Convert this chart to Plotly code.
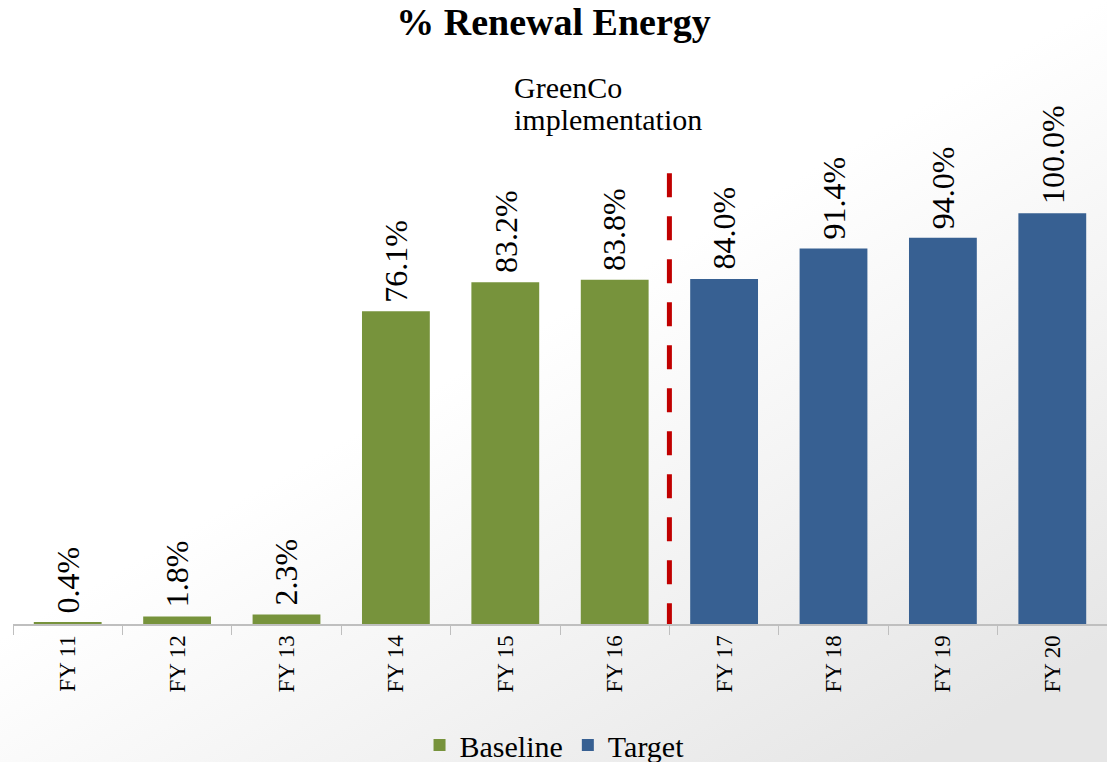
import base64
import plotly.graph_objects as go

# Renewable share of total energy, by financial year
categories = ["FY 11", "FY 12", "FY 13", "FY 14", "FY 15",
              "FY 16", "FY 17", "FY 18", "FY 19", "FY 20"]
baseline_years = categories[:6]
baseline_values = [0.4, 1.8, 2.3, 76.1, 83.2, 83.8]
target_years = categories[6:]
target_values = [84.0, 91.4, 94.0, 100.0]

GREEN = "#77933C"
BLUE = "#376092"
RED = "#C00000"
SERIF = "Liberation Serif"

W, H = 1107, 762
ML, MR, MT, MB = 13, 0, 131, 138
plot_w = W - ML - MR
plot_h = H - MT - MB

# soft grey wash towards the right-hand side of the page
svg = f"""<svg xmlns='http://www.w3.org/2000/svg' width='{W}' height='{H}'>
<defs><linearGradient id='g' x1='0.58' y1='0.35' x2='1' y2='0.85'>
<stop offset='0' stop-color='#ffffff'/>
<stop offset='1' stop-color='#e6e6e6'/>
</linearGradient></defs>
<rect width='{W}' height='{H}' fill='url(#g)'/></svg>"""
bg_uri = "data:image/svg+xml;base64," + base64.b64encode(svg.encode()).decode()

fig = go.Figure()

fig.add_trace(go.Bar(
    name="Baseline", x=baseline_years, y=baseline_values,
    marker=dict(color=GREEN, line=dict(width=0)), width=0.62,
))
fig.add_trace(go.Bar(
    name="Target", x=target_years, y=target_values,
    marker=dict(color=BLUE, line=dict(width=0)), width=0.62,
))

# value labels, rotated, sitting just above each bar
label_font = dict(family=SERIF, size=32, color="#000000")
for xs, ys in ((baseline_years, baseline_values), (target_years, target_values)):
    for xv, yv in zip(xs, ys):
        fig.add_annotation(x=xv, y=yv, xref="x", yref="y",
                           text=f"{yv:.1f}%", textangle=-90,
                           xanchor="center", yanchor="bottom", yshift=7,
                           showarrow=False, font=label_font)

# GreenCo implementation marker between FY 16 and FY 17
fig.add_shape(type="line", xref="x", yref="y",
              x0=5.5, x1=5.5, y0=109.7, y1=0,
              line=dict(color=RED, width=5, dash="24px,19px"))

note_font = dict(family=SERIF, size=30, color="#000000")
fig.add_annotation(text="GreenCo", xref="paper", yref="paper",
                   x=(512 - ML) / plot_w, y=(H - MB - 88) / plot_h,
                   xanchor="left", yanchor="middle", showarrow=False,
                   font=note_font)
fig.add_annotation(text="implementation", xref="paper", yref="paper",
                   x=(512 - ML) / plot_w, y=(H - MB - 119) / plot_h,
                   xanchor="left", yanchor="middle", showarrow=False,
                   font=note_font)

fig.add_layout_image(dict(
    source=bg_uri, xref="paper", yref="paper",
    x=-ML / plot_w, y=(H - MB) / plot_h,
    sizex=W / plot_w, sizey=H / plot_h,
    xanchor="left", yanchor="top", sizing="stretch", layer="below",
))

fig.update_layout(
    width=W, height=H,
    margin=dict(l=ML, r=MR, t=MT, b=MB, autoexpand=False),
    font=dict(family=SERIF, color="#000000"),
    paper_bgcolor="#ffffff", plot_bgcolor="rgba(0,0,0,0)",
    barmode="overlay",
    title=dict(text="<b>% Renewal Energy</b>", x=0.5, xanchor="center",
               xref="container", y=1 - 22 / H, yref="container",
               yanchor="middle",
               font=dict(family=SERIF, size=38, color="#000000")),
    showlegend=True,
    legend=dict(orientation="h", x=0.495, xanchor="center",
                y=(H - MB - 745) / plot_h, yanchor="middle",
                font=dict(family=SERIF, size=30, color="#000000"),
                bgcolor="rgba(0,0,0,0)", traceorder="normal"),
    xaxis=dict(type="category", categoryorder="array",
               categoryarray=categories, range=[-0.5, 9.5],
               showline=True, linecolor="#BFBFBF", linewidth=2,
               ticks="outside", tickson="boundaries", ticklen=9,
               tickcolor="#BFBFBF", tickwidth=1,
               tickangle=-90, showgrid=False, zeroline=False,
               tickfont=dict(family=SERIF, size=23, color="#000000")),
    yaxis=dict(range=[0, 120], visible=False, showgrid=False,
               zeroline=False),
)

fig.write_html("out.html")
